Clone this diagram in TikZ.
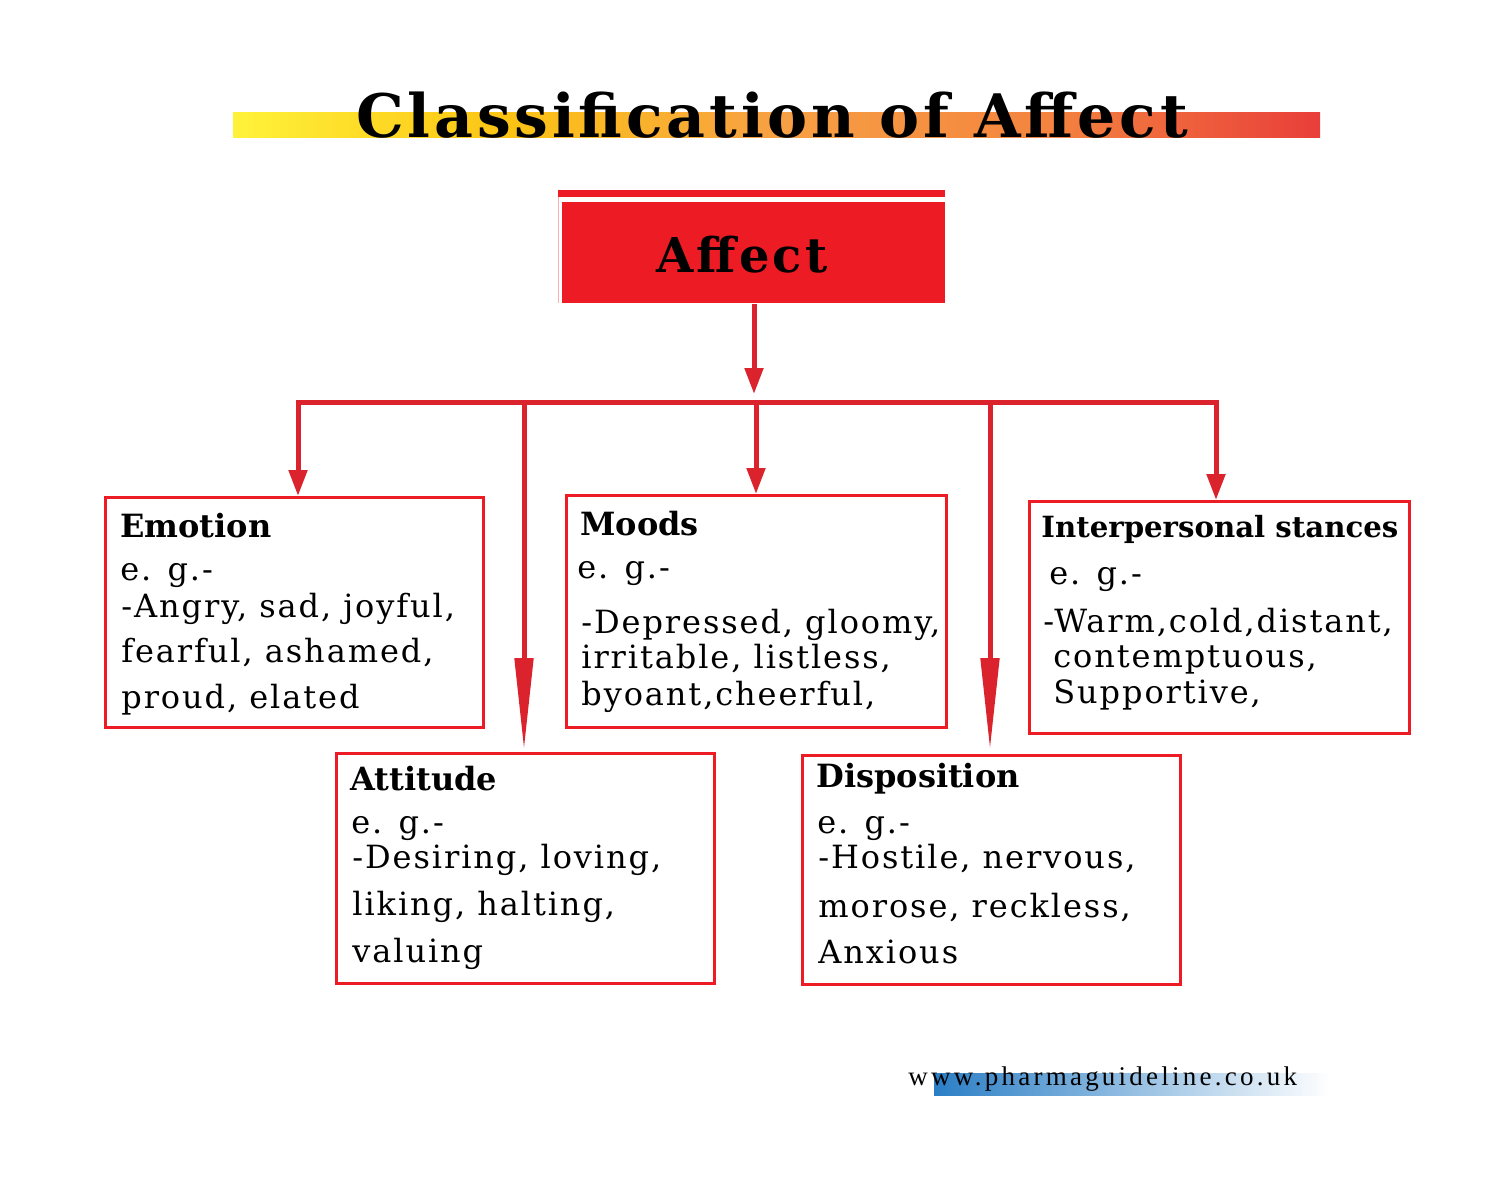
\documentclass[tikz,border=0pt]{standalone}
\usepackage{fontspec}
\setmainfont{DejaVu Serif}
\newfontfamily\bodyfont[LetterSpace=6]{DejaVu Serif}
\newfontfamily\spacedfont[LetterSpace=6.4]{DejaVu Serif}
\newfontfamily\webfont[LetterSpace=12]{Liberation Serif}
\usetikzlibrary{arrows.meta,positioning}

\definecolor{boxred}{HTML}{ED1C24}
\definecolor{linkred}{HTML}{DA232C}
\definecolor{bary}{HTML}{FFF23A}
\definecolor{barg}{HTML}{FCC414}
\definecolor{baro}{HTML}{F7A044}
\definecolor{barp}{HTML}{F4843F}
\definecolor{barr}{HTML}{E93E3A}
\definecolor{webblue}{HTML}{2A7EC5}
\pgfdeclarehorizontalshading{titlebar}{100bp}{color(0bp)=(bary); color(25bp)=(bary); color(37.5bp)=(barg); color(50bp)=(baro); color(62.5bp)=(barp); color(75bp)=(barr); color(100bp)=(barr)}

\begin{document}
\begin{tikzpicture}[x=0.5pt, y=-0.5pt,
  catbox/.style={draw=boxred, line width=1.5pt, rectangle, anchor=north west, inner sep=0pt},
  heading/.style={anchor=base west, inner sep=0pt, font=\fontsize{16}{19}\selectfont\bfseries},
  bodytext/.style={anchor=base west, inner sep=0pt, font=\bodyfont\fontsize{16}{19}\selectfont},
  link/.style={draw=linkred, line width=2.5pt},
  shorttip/.style={-{Triangle[length=13pt,width=9pt]}},
  longtip/.style={-{Triangle[length=46pt,width=9pt]}}]
\useasboundingbox (0,0) rectangle (1512,1177);

% title with colour bar
\shade[shading=titlebar] (233,113) rectangle (1320,138);
\node[anchor=base, inner sep=0pt, font=\spacedfont\fontsize{30}{36}\selectfont\bfseries] (title) at (772,138) {Classification of Affect};

% root box
\fill[boxred] (558,190) rectangle (945,197);
\draw[boxred!35, line width=0.6pt] (558.5,197) -- (558.5,303);
\node[fill=boxred, anchor=north west, inner sep=0pt, minimum width=191.5pt, minimum height=50.5pt] (affect) at (562,202) {};
\node[anchor=base, inner sep=0pt, font=\spacedfont\fontsize{24}{28}\selectfont\bfseries] (affect-t) at (742,272) {Affect};

% category boxes
\node[catbox, minimum width=189pt, minimum height=115pt] (emo) at (104,496) {};
\node[catbox, minimum width=190pt, minimum height=116pt] (mood) at (565,494) {};
\node[catbox, minimum width=190pt, minimum height=116pt] (inter) at (1028,500) {};
\node[catbox, minimum width=189pt, minimum height=115pt] (att) at (335,752) {};
\node[catbox, minimum width=189pt, minimum height=114.5pt] (disp) at (801,754) {};

% connectors
\coordinate (hub) at (754,402);
\coordinate (tee-emo) at (298,402);
\coordinate (tee-att) at (524,402);
\coordinate (tee-mood) at (756,402);
\coordinate (tee-disp) at (990,402);
\coordinate (tee-inter) at (1216,402);
\draw[link, shorttip, shorten >=4pt] (affect.south -| hub) -- (hub);
\draw[link, line cap=rect] (tee-emo) -- (tee-inter);
\draw[link, shorttip] (tee-emo) -- (tee-emo |- emo.north);
\draw[link, longtip, shorten >=1pt] (tee-att) -- (tee-att |- att.north);
\draw[link, shorttip] (tee-mood) -- (tee-mood |- mood.north);
\draw[link, longtip, shorten >=2pt] (tee-disp) -- (tee-disp |- disp.north);
\draw[link, shorttip] (tee-inter) -- (tee-inter |- inter.north);

% Emotion
\node[heading] (emo-h) at (120,537) {Emotion};
\node[bodytext] (emo-eg) at (120,580) {e. g.-};
\foreach \yy/\txt [count=\i] in {617/{-Angry, sad, joyful,}, 662/{fearful, ashamed,}, 708/{proud, elated}}
  \node[bodytext] (emo-l\i) at (121,\yy) {\txt};

% Moods
\node[heading] (mood-h) at (580,535) {Moods};
\node[bodytext] (mood-eg) at (577,578) {e. g.-};
\foreach \yy/\txt [count=\i] in {633/{-Depressed, gloomy,}, 668/{irritable, listless,}, 705/{byoant,cheerful,}}
  \node[bodytext] (mood-l\i) at (581,\yy) {\txt};

% Interpersonal stances
\node[heading, font=\fontsize{14.6}{17}\selectfont\bfseries] (inter-h) at (1041,537) {Interpersonal stances};
\node[bodytext] (inter-eg) at (1049,584) {e. g.-};
\node[bodytext] (inter-l1) at (1043,632) {-Warm,cold,distant,};
\node[bodytext] (inter-l2) at (1053,667) {contemptuous,};
\node[bodytext] (inter-l3) at (1053,703) {Supportive,};

% Attitude
\node[heading] (att-h) at (350,790) {Attitude};
\node[bodytext] (att-eg) at (351,833) {e. g.-};
\foreach \yy/\txt [count=\i] in {868/{-Desiring, loving,}, 915/{liking, halting,}, 962/{valuing}}
  \node[bodytext] (att-l\i) at (352,\yy) {\txt};

% Disposition
\node[heading] (disp-h) at (816,787) {Disposition};
\node[bodytext] (disp-eg) at (817,833) {e. g.-};
\foreach \yy/\txt [count=\i] in {868/{-Hostile, nervous,}, 917/{morose, reckless,}, 963/{Anxious}}
  \node[bodytext] (disp-l\i) at (818,\yy) {\txt};

% website
\shade[left color=webblue, right color=white] (934,1073) rectangle (1330,1095);
\node[anchor=base west, inner sep=0pt, font=\webfont\fontsize{13.5}{16}\selectfont] (web) at (908,1085) {www.pharmaguideline.co.uk};
\end{tikzpicture}
\end{document}
